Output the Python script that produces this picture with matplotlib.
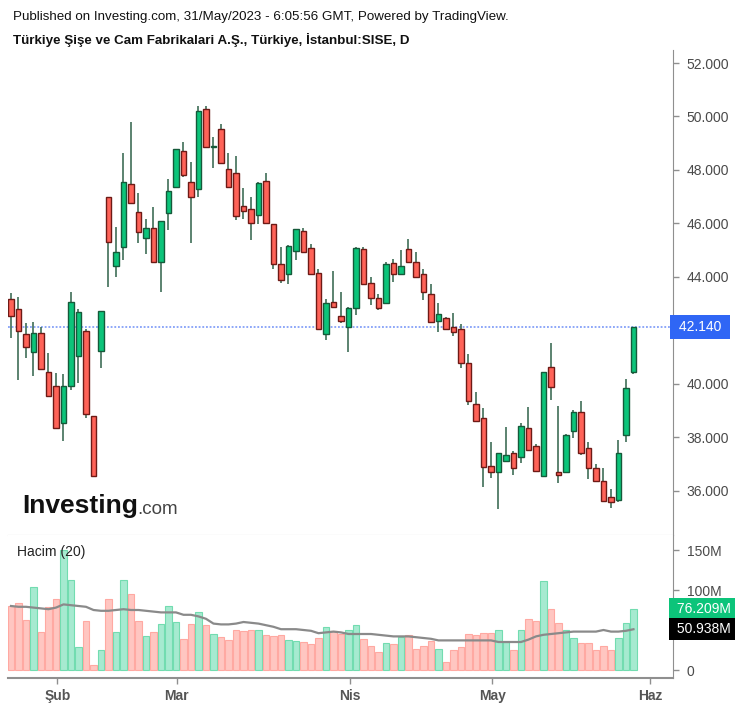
import matplotlib
matplotlib.use("Agg")
import matplotlib.pyplot as plt
import matplotlib.transforms as mtransforms
import numpy as np

# daily candles, Jan 24 .. May 31 2023 (trading days only)
opens = [43.17, 42.79, 41.86, 41.18, 41.89, 40.44, 39.93, 38.53, 39.94, 41.06,
         41.98, 38.80, 41.23, 47.00, 44.41, 45.11, 47.46, 46.42, 45.45, 45.82,
         44.55, 46.38, 47.35, 48.72, 47.54, 47.28, 50.27, 48.87, 49.52, 48.03,
         47.88, 46.67, 46.53, 46.32, 47.60, 45.97, 44.47, 44.10, 44.97, 45.73,
         45.07, 44.14, 41.86, 43.05, 42.54, 42.12, 42.83, 45.03, 43.76, 43.20,
         43.02, 44.51, 44.10, 45.03, 44.57, 44.10, 43.35, 42.36, 42.45, 42.12,
         42.04, 40.77, 39.24, 38.72, 36.95, 36.70, 37.12, 37.41, 37.26, 38.34,
         37.68, 36.56, 40.62, 36.70, 36.70, 38.24, 38.94, 37.60, 36.85, 36.37,
         35.76, 35.66, 38.09, 40.46]
highs = [43.39, 43.26, 42.27, 42.33, 42.14, 41.15, 40.40, 40.37, 43.45, 42.79,
         42.04, 38.80, 42.74, 47.00, 45.88, 48.62, 49.81, 47.15, 46.16, 46.63,
         46.09, 47.65, 48.77, 49.06, 48.31, 50.41, 50.41, 49.25, 49.71, 48.62,
         48.54, 47.34, 47.00, 47.56, 47.88, 45.97, 45.13, 45.20, 45.78, 45.82,
         45.23, 44.29, 43.17, 44.24, 43.45, 42.87, 45.13, 45.13, 44.01, 43.36,
         44.57, 44.66, 45.01, 45.42, 44.95, 44.29, 43.74, 43.04, 42.52, 42.64,
         42.23, 41.12, 39.71, 39.12, 37.84, 37.41, 38.40, 37.51, 38.53, 39.15,
         37.74, 40.46, 41.52, 39.19, 38.12, 39.03, 39.38, 37.84, 37.00, 36.85,
         36.06, 37.91, 40.17, 42.14]
lows = [41.71, 40.15, 40.98, 40.30, 40.52, 39.50, 38.34, 37.87, 39.78, 40.05,
        38.72, 36.56, 40.59, 43.64, 44.01, 44.64, 46.75, 45.28, 44.86, 44.55,
        43.45, 45.76, 47.35, 47.73, 45.28, 46.98, 48.85, 48.09, 48.25, 47.35,
        46.13, 46.17, 45.38, 45.98, 46.01, 44.30, 43.79, 43.74, 44.64, 44.92,
        44.10, 42.04, 41.64, 42.87, 42.29, 41.21, 42.58, 43.73, 42.95, 42.77,
        43.02, 43.83, 44.10, 44.55, 43.99, 43.14, 42.31, 41.96, 42.02, 41.81,
        40.59, 39.22, 38.62, 36.16, 36.50, 35.31, 37.12, 36.60, 37.06, 37.53,
        36.75, 36.56, 39.40, 36.31, 36.70, 37.99, 37.35, 36.45, 36.37, 35.57,
        35.35, 35.57, 37.84, 40.37]
closes = [42.54, 41.98, 41.37, 41.89, 40.55, 39.55, 38.34, 39.93, 43.05, 42.68,
          38.87, 36.56, 42.74, 45.30, 44.92, 47.54, 46.75, 45.67, 45.82, 44.55,
          46.09, 47.22, 48.77, 47.81, 46.98, 50.22, 48.85, 48.90, 48.25, 47.35,
          46.28, 46.48, 46.01, 47.50, 46.01, 44.47, 43.89, 45.17, 45.78, 44.92,
          44.10, 42.04, 43.02, 42.87, 42.36, 42.83, 45.07, 43.73, 43.20, 42.83,
          44.47, 44.10, 44.41, 44.55, 43.99, 43.43, 42.31, 42.60, 42.04, 41.93,
          40.77, 39.36, 38.62, 36.88, 36.70, 37.41, 37.35, 36.85, 38.43, 37.53,
          36.75, 40.44, 39.88, 36.60, 38.09, 38.94, 37.41, 36.85, 36.37, 35.63,
          35.58, 37.41, 39.84, 42.14]
# volume in millions
volumes = [80.4, 84.2, 62.5, 103.3, 47.1, 79.2, 88.8, 150.0, 112.5, 29.2,
           61.3, 6.3, 25.0, 88.8, 47.1, 112.5, 95.0, 61.3, 42.5, 47.1,
           57.5, 80.0, 59.6, 38.8, 57.5, 72.1, 56.3, 45.0, 40.8, 37.5,
           50.0, 48.8, 50.0, 50.0, 43.8, 42.1, 43.8, 37.1, 36.3, 34.6,
           32.5, 40.4, 53.3, 48.5, 44.6, 49.6, 56.3, 38.8, 30.0, 22.1,
           34.2, 32.5, 40.8, 43.8, 26.3, 30.0, 36.3, 26.3, 9.6, 25.0,
           28.3, 45.0, 43.8, 46.7, 46.7, 49.6, 34.6, 25.0, 49.6, 63.8,
           61.3, 111.3, 76.3, 59.2, 49.6, 40.4, 34.2, 34.2, 25.0, 30.0,
           25.0, 40.4, 59.2, 76.209]
# 20-day volume average as drawn
vol_ma = [80, 79, 79, 78, 77, 76, 78, 82, 81, 80,
          79, 75, 74, 74, 75, 76, 75, 75, 74, 73,
          72, 72, 72, 69, 69, 67, 64, 58, 57, 57,
          58, 60, 59, 58, 56, 54, 51, 51, 51, 50,
          49, 46, 47, 48, 47, 45, 45, 45, 45, 44,
          43, 42, 42, 42, 41, 40, 39, 37, 37, 37,
          37, 37, 37, 37, 37, 35, 35, 35, 35, 38,
          42, 44, 45, 46, 47, 48, 48, 48, 48, 50,
          48, 48, 49, 50.938]

month_labels = ["Şub", "Mar", "Nis", "May", "Haz"]
month_pos = [6.2, 22.1, 45.2, 64.2, 85.2]
price_ticks = [36, 38, 40, 42, 44, 46, 48, 50, 52]
vol_ticks = [0, 100, 150]
vol_tick_labels = ["0", "100M", "150M"]

GREEN = "#0cc47a"
RED = "#ff6358"
GREEN_EDGE = "#155a3a"
RED_EDGE = "#6e1a16"
WICK = "#3f6e58"
AXC = "#8f8f8f"
TXT = "#4a4a4a"

W, H = 746, 707
fig = plt.figure(figsize=(W / 100, H / 100), dpi=100)
plt.rcParams['font.family'] = ['Liberation Sans', 'DejaVu Sans']

def fx(px):
    return px / W

def fy(py):
    return 1 - py / H

left, right = 8, 673
ax = fig.add_axes([fx(left), fy(535), fx(right - left), fy(50) - fy(535)])
axv = fig.add_axes([fx(left), fy(678), fx(right - left), fy(535) - fy(678)], sharex=ax)

x = np.arange(len(opens))
o = np.array(opens)
c = np.array(closes)
up = c >= o

# wicks
ax.vlines(x, lows, highs, color=WICK, linewidth=1.2, zorder=2)
# bodies
body_bottom = np.minimum(o, c)
body_h = np.maximum(np.abs(c - o), 0.04)
ax.bar(x, body_h, bottom=body_bottom, width=0.68,
       color=[GREEN if u else RED for u in up],
       edgecolor=[GREEN_EDGE if u else RED_EDGE for u in up],
       linewidth=1.0, zorder=3)

last = closes[-1]
ax.axhline(last, color="#6f8ff7", linestyle=(0, (1.2, 1.2)), linewidth=1.1, zorder=1)

ax.set_xlim(-0.4, 88.27)
ax.set_ylim(34.355, 52.486)
ax.yaxis.tick_right()
ax.set_yticks(price_ticks)
# the 42 label sits under the last-price box
ax.set_yticklabels(["" if t == 42 else f"{t}.000" for t in price_ticks])
ax.tick_params(axis="y", colors=AXC, labelcolor=TXT, labelsize=10, length=4, width=1, pad=6)
ax.tick_params(axis="x", bottom=False, labelbottom=False)
for s in ["top", "left"]:
    ax.spines[s].set_visible(False)
ax.spines["bottom"].set_color("#c8c8c8")
ax.spines["right"].set_color(AXC)

trans = mtransforms.blended_transform_factory(ax.transAxes, ax.transData)
ax.text(1.003, last, f" {last:.3f} ", transform=trans, ha="left", va="center",
        color="white", fontsize=10,
        bbox=dict(boxstyle="square,pad=0.35", fc="#2f66f5", ec="none"), zorder=5, clip_on=False)

# volume pane
axv.bar(x, volumes, width=0.92,
        color=["#a6ead0" if u else "#ffc6c1" for u in up],
        edgecolor=["#72dcb0" if u else "#ffa9a2" for u in up],
        linewidth=0.8, zorder=2)
axv.plot(x, vol_ma, color="#8a8a8a", linewidth=1.6, zorder=3)
axv.set_ylim(-10, 168.75)
axv.yaxis.tick_right()
axv.set_yticks(vol_ticks)
axv.set_yticklabels(vol_tick_labels)
axv.tick_params(axis="y", colors=AXC, labelcolor=TXT, labelsize=10, length=4, width=1, pad=6)
axv.set_xticks(month_pos)
axv.set_xticklabels(month_labels, fontweight="bold")
axv.tick_params(axis="x", colors=AXC, labelcolor="#555555", labelsize=10, length=4, width=1, pad=4)
for s in ["top", "left"]:
    axv.spines[s].set_visible(False)
axv.spines["bottom"].set_color(AXC)
axv.spines["right"].set_color(AXC)
axv.spines["bottom"].set_linewidth(1.5)

transv = mtransforms.blended_transform_factory(axv.transAxes, axv.transData)
axv.text(1.0, volumes[-1], f" {volumes[-1]:.3f}M", transform=transv, ha="left", va="center",
         color="white", fontsize=10,
         bbox=dict(boxstyle="square,pad=0.3", fc="#0cc47a", ec="none"), zorder=5, clip_on=False)
axv.text(1.0, vol_ma[-1], f" {vol_ma[-1]:.3f}M", transform=transv, ha="left", va="center",
         color="white", fontsize=10,
         bbox=dict(boxstyle="square,pad=0.3", fc="black", ec="none"), zorder=5, clip_on=False)
axv.text(0.014, 0.93, "Hacim (20)", transform=axv.transAxes, ha="left", va="top",
         fontsize=10, color="#222222")

# header
fig.text(fx(13), fy(17), "Published on Investing.com, 31/May/2023 - 6:05:56 GMT, Powered by TradingView.",
         fontsize=9.6, va="center", ha="left", color="#111111")
fig.text(fx(13), fy(40), "Türkiye Şişe ve Cam Fabrikalari A.Ş., Türkiye, İstanbul:SISE, D",
         fontsize=9.6, fontweight="bold", va="center", ha="left", color="#111111")

# logo
fig.text(fx(22), fy(506), "Investing", fontsize=19, fontweight="bold", color="#111111",
         va="center", ha="left")
fig.text(fx(137), fy(509), ".com", fontsize=13.5, color="#444444", va="center", ha="left")

fig.savefig("out.png", dpi=100)
